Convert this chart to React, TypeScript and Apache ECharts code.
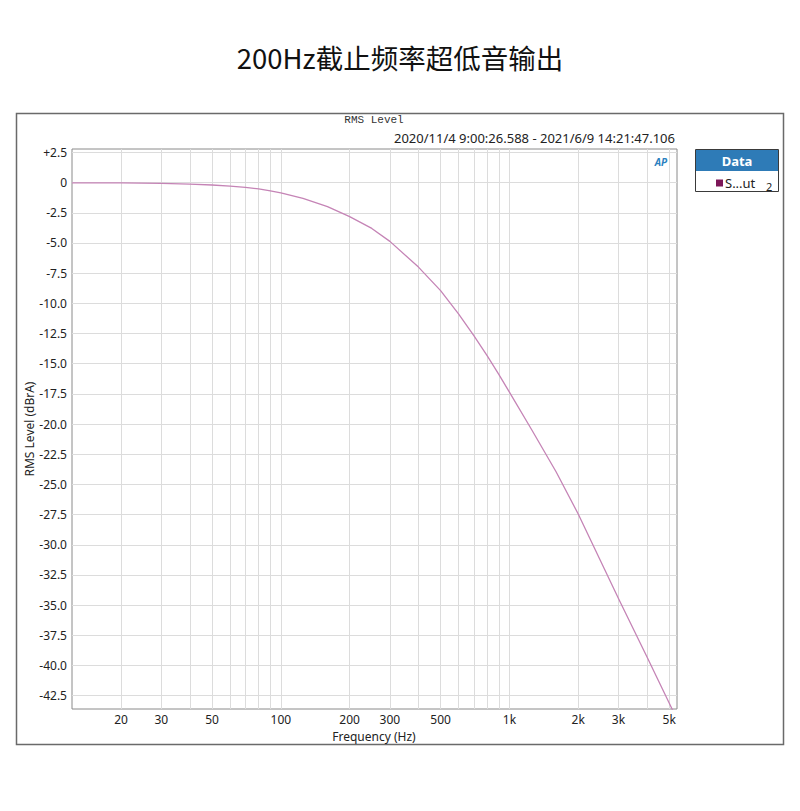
import React, { useEffect, useRef } from "react";
import * as echarts from "echarts";

// ---- data ----
const FREQ_HZ = [12.2, 20, 30, 40, 50, 60, 70, 80, 90, 100, 125, 160, 200, 250, 300, 400, 500, 600, 700, 800, 900, 1000, 1250, 1600, 2000, 2500, 3000, 4000, 5000, 5410];
const LEVEL_DBRA = [-0.02, -0.03, -0.07, -0.13, -0.2, -0.29, -0.4, -0.53, -0.68, -0.85, -1.3, -2.0, -2.82, -3.8, -4.87, -7.0, -8.95, -10.9, -12.7, -14.35, -15.9, -17.35, -20.45, -23.95, -27.45, -31.3, -34.45, -39.3, -43.1, -44.45];

const GRID_FREQS = [20, 30, 40, 50, 60, 70, 80, 90, 100, 200, 300, 400, 500, 600, 700, 800, 900, 1000, 2000, 3000, 4000, 5000];
const LABEL_FREQS = [20, 30, 50, 100, 200, 300, 500, 1000, 2000, 3000, 5000];
const Y_TICKS = [2.5, 0, -2.5, -5, -7.5, -10, -12.5, -15, -17.5, -20, -22.5, -25, -27.5, -30, -32.5, -35, -37.5, -40, -42.5];

const X_MIN_HZ = 12.2;
const X_MAX_HZ = 5410;
const Y_MIN = -43.6;
const Y_MAX = 2.78;

const TITLE = "200Hz截止频率超低音输出";
const PANEL_TITLE = "RMS Level";
const TIME_RANGE = "2020/11/4 9:00:26.588 - 2021/6/9 14:21:47.106";
const SERIES_NAME = "S...ut";

const UI_FONT = "'Noto Sans', 'Open Sans', sans-serif";

function fmtFreq(v: number): string {
  const f = Math.round(Math.pow(10, v));
  return f >= 1000 ? f / 1000 + "k" : String(f);
}
function fmtLevel(v: number): string {
  const r = Math.round(v * 10) / 10;
  if (r === 0) return "0";
  return r > 0 ? "+" + r.toFixed(1) : r.toFixed(1);
}

export default function App() {
  const ref = useRef<HTMLDivElement>(null);
  useEffect(() => {
    if (!ref.current) return;
    const chart = echarts.init(ref.current, undefined, { renderer: "svg" });
    const data = FREQ_HZ.map((f, i) => [Math.log10(f), LEVEL_DBRA[i]]);
    chart.setOption({
      animation: false,
      backgroundColor: "#ffffff",
      title: {
        text: TITLE,
        left: "center",
        top: 38,
        textStyle: {
          fontFamily: "'Noto Sans CJK SC', sans-serif",
          fontSize: 27.5,
          fontWeight: "normal",
          color: "#111",
        },
      },
      grid: {
        left: 72,
        top: 149,
        right: 123,
        bottom: 102,
        show: true,
        borderColor: "#8a8a8a",
        borderWidth: 1,
      },
      xAxis: {
        type: "value",
        min: Math.log10(X_MIN_HZ),
        max: Math.log10(X_MAX_HZ),
        axisLine: { show: false },
        axisTick: { show: false, customValues: GRID_FREQS.map((f) => Math.log10(f)) },
        splitLine: { show: true, lineStyle: { color: "#dcdcdc", width: 1 } },
        axisLabel: {
          customValues: LABEL_FREQS.map((f) => Math.log10(f)),
          formatter: (v: number) => fmtFreq(v),
          color: "#222",
          fontSize: 12,
          fontFamily: UI_FONT,
          margin: 4,
        },
      },
      yAxis: {
        type: "value",
        min: Y_MIN,
        max: Y_MAX,
        axisLine: { show: false },
        axisTick: { show: false, customValues: Y_TICKS },
        splitLine: { show: true, lineStyle: { color: "#dcdcdc", width: 1 } },
        axisLabel: {
          customValues: Y_TICKS,
          formatter: (v: number) => fmtLevel(v),
          color: "#222",
          fontSize: 12,
          fontFamily: UI_FONT,
          margin: 5,
        },
      },
      series: [
        {
          type: "line",
          name: SERIES_NAME,
          data,
          showSymbol: false,
          symbol: "none",
          clip: true,
          lineStyle: { color: "#c584b6", width: 1.3 },
        },
      ],
      graphic: [
        {
          type: "rect",
          shape: { x: 16.5, y: 113.5, width: 767, height: 631 },
          style: { fill: "none", stroke: "#6a6a6a", lineWidth: 1.5 },
          silent: true,
        },
        {
          type: "text",
          x: 374,
          y: 120,
          style: {
            text: PANEL_TITLE,
            fill: "#333",
            font: "11px 'Liberation Mono', monospace",
            align: "center",
            verticalAlign: "middle",
          },
        },
        {
          type: "text",
          x: 675,
          y: 138,
          style: {
            text: TIME_RANGE,
            fill: "#222",
            font: "13px " + UI_FONT,
            align: "right",
            verticalAlign: "middle",
          },
        },
        {
          type: "text",
          x: 661,
          y: 162,
          style: {
            text: "AP",
            fill: "#2a7fc0",
            font: "italic bold 10px " + UI_FONT,
            align: "center",
            verticalAlign: "middle",
          },
        },
        {
          type: "text",
          x: 374,
          y: 736,
          style: {
            text: "Frequency (Hz)",
            fill: "#222",
            font: "12px " + UI_FONT,
            align: "center",
            verticalAlign: "middle",
          },
        },
        {
          type: "text",
          x: 29,
          y: 429,
          rotation: Math.PI / 2,
          style: {
            text: "RMS Level (dBrA)",
            fill: "#222",
            font: "12px " + UI_FONT,
            align: "center",
            verticalAlign: "middle",
          },
        },
        // legend box
        {
          type: "rect",
          shape: { x: 695.5, y: 149.5, width: 83, height: 42 },
          style: { fill: "#ffffff", stroke: "#3a3a3a", lineWidth: 1 },
        },
        {
          type: "rect",
          shape: { x: 696, y: 150, width: 82, height: 21 },
          style: { fill: "#2e7bb7" },
        },
        {
          type: "text",
          x: 737,
          y: 160.5,
          style: {
            text: "Data",
            fill: "#ffffff",
            font: "bold 13px " + UI_FONT,
            align: "center",
            verticalAlign: "middle",
          },
        },
        {
          type: "rect",
          shape: { x: 716, y: 179.5, width: 7, height: 7 },
          style: { fill: "#7d1758" },
        },
        {
          type: "text",
          x: 725,
          y: 183,
          style: {
            text: SERIES_NAME,
            fill: "#222",
            font: "13px " + UI_FONT,
            align: "left",
            verticalAlign: "middle",
          },
        },
        {
          type: "text",
          x: 766,
          y: 186.5,
          style: {
            text: "2",
            fill: "#222",
            font: "11px " + UI_FONT,
            align: "left",
            verticalAlign: "middle",
          },
        },
      ],
    });
    return () => chart.dispose();
  }, []);
  return (
    <div
      ref={ref}
      style={{ position: "fixed", left: 0, top: 0, width: 800, height: 811 }}
    />
  );
}
